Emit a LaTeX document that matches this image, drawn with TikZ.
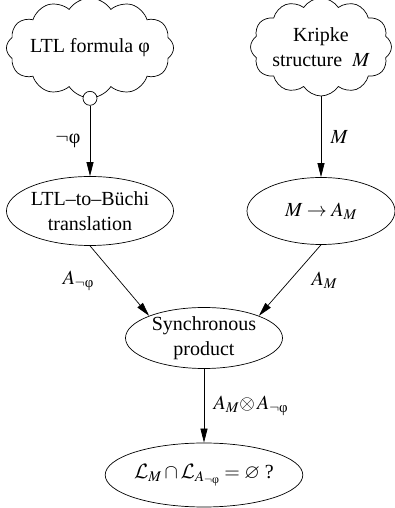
\documentclass[tikz,border=0pt]{standalone}
\usepackage{amsmath, amssymb}
\usepackage{mathptmx}
\usepackage{fontspec}
\setmainfont{Liberation Serif}
\DeclareMathAlphabet{\mathcal}{OMS}{cmsy}{m}{n}
\usepackage{tikz}
\usetikzlibrary{arrows.meta, positioning, shapes.symbols, shapes.geometric}

\tikzset{
  cloudbox/.style={draw, cloud, cloud puffs=12, cloud puff arc=115, cloud ignores aspect, inner sep=0pt, align=center},
  ellbox/.style={draw, ellipse, inner sep=0pt, align=center},
  flow/.style={-{Triangle[length=14pt,width=7pt]}},
}

\begin{document}
\begin{tikzpicture}[x=1pt,y=1pt,line width=0.7pt,font=\fontsize{20}{25}\selectfont]
\useasboundingbox (0,0) rectangle (395,508);
\node[cloudbox, minimum width=130pt, minimum height=100pt] (ltl) at (90,460) {LTL formula φ};
\node[cloudbox, minimum width=124pt, minimum height=98pt] (kripke) at (321,461) {Kripke\\structure\ \ $M$};
\node[draw, circle, minimum size=14pt, inner sep=0pt, fill=white] (neg) at (ltl.south) {};
\node[ellbox, minimum width=156pt, minimum height=69pt] (buchi) at (90,297) {LTL--to--Büchi\\translation};
\node[ellbox, minimum width=148pt, minimum height=67pt] (kaut) at (321,297) {$M \rightarrow A_M$};
\node[ellbox, minimum width=157pt, minimum height=60pt] (prod) at (204,170) {Synchronous\\product};
\node[ellbox, minimum width=158pt, minimum height=64pt] (check) at (204,33) {$\mathcal{L}_M \cap \mathcal{L}_{A_{\neg\text{φ}}} = \varnothing$ ?};
\draw[flow] (neg) -- (buchi) node[midway, left=6pt] {$\neg$φ};
\draw[flow] (kripke) -- (kaut) node[midway, right=6pt] {$M$};
\draw[flow] (buchi.south) -- (prod.158) node[midway, left=22pt] {$A_{\neg\text{φ}}$};
\draw[flow] (kaut.south) -- (prod.22) node[midway, right=18pt] {$A_M$};
\draw[flow] (prod) -- (check) node[midway, right=6pt] {$A_M{\otimes}\,A_{\neg\text{φ}}$};
\end{tikzpicture}
\end{document}
